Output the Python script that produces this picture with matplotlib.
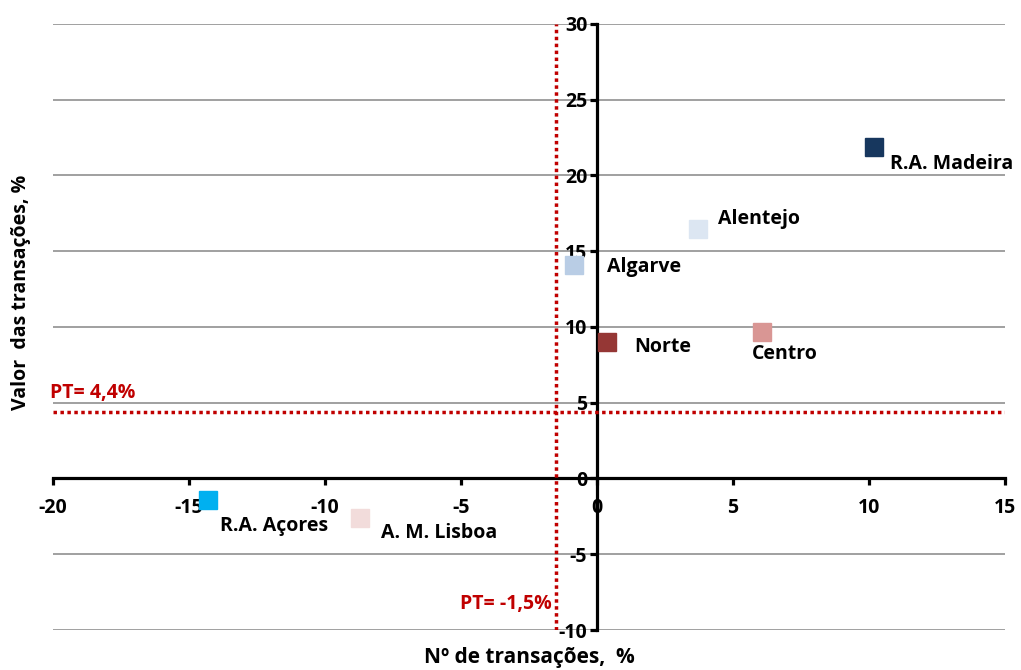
import matplotlib.pyplot as plt

plt.rcParams['font.family'] = ['Open Sans', 'DejaVu Sans']
plt.rcParams['font.weight'] = 'bold'
plt.rcParams['axes.unicode_minus'] = False

# regions: change in number of transactions (x) and in value of transactions (y), %
regions = ['R.A. Madeira', 'Alentejo', 'Algarve', 'Norte', 'Centro', 'R.A. Açores', 'A. M. Lisboa']
n_trans = [10.2, 3.7, -0.85, 0.37, 6.07, -14.3, -8.7]
val_trans = [21.9, 16.5, 14.1, 9.0, 9.7, -1.4, -2.6]
colors = ['#17375E', '#DCE6F2', '#B9CDE5', '#953735', '#D99694', '#00B0F0', '#F2DCDB']
# label offsets in pixels (dx, dy)
offsets = [(16, -17), (20, 10), (33, -2), (27, -5), (-10, -22), (12, -26), (21, -15)]

pt_x = -1.5
pt_y = 4.4

fig = plt.figure(figsize=(10.21, 6.70), dpi=100)
ax = fig.add_axes([0.0519, 0.0597, 0.9324, 0.9045])

ax.set_xlim(-20, 15)
ax.set_ylim(-10, 30)
ax.set_xticks(range(-20, 16, 5))
ax.set_yticks(range(-10, 31, 5))

for v in range(-10, 31, 5):
    ax.axhline(v, color='#A0A0A0', lw=1.4, zorder=1)

ax.spines['left'].set_position(('data', 0))
ax.spines['bottom'].set_position(('data', 0))
ax.spines['top'].set_visible(False)
ax.spines['right'].set_visible(False)
for s in ['left', 'bottom']:
    ax.spines[s].set_linewidth(2.3)
    ax.spines[s].set_zorder(3)

ax.tick_params(axis='both', direction='out', length=5, width=2.3, labelsize=14)
ax.tick_params(axis='x', pad=9)
ax.tick_params(axis='y', pad=2)

# reference lines (Portugal)
ax.axvline(pt_x, color='#C00000', lw=2.5, ls=(0, (1, 1)), zorder=4)
ax.axhline(pt_y, color='#C00000', lw=2.5, ls=(0, (1, 1)), zorder=4)
ax.annotate('PT= 4,4%', xy=(-20, pt_y), xytext=(-3, 9), textcoords='offset pixels',
            color='#C00000', fontsize=14, fontweight='bold', va='bottom', ha='left')
ax.annotate('PT= -1,5%', xy=(pt_x, -8.3), xytext=(-4, 0), textcoords='offset pixels',
            color='#C00000', fontsize=14, fontweight='bold', va='center', ha='right')

for name, x, y, c, (dx, dy) in zip(regions, n_trans, val_trans, colors, offsets):
    ax.plot(x, y, marker='s', ms=13, color=c, mec=c, ls='none', zorder=5)
    ax.annotate(name, xy=(x, y), xytext=(dx, dy), textcoords='offset pixels',
                fontsize=14, fontweight='bold', va='center', ha='left', zorder=6)

fig.text(0.518, 0.018, 'Nº de transações,  %', ha='center', va='center', fontsize=15, fontweight='bold')
fig.text(0.021, 0.563, 'Valor  das transações, %', ha='center', va='center', rotation=90,
         fontsize=14, fontweight='bold')

fig.savefig('out.png', dpi=100)
